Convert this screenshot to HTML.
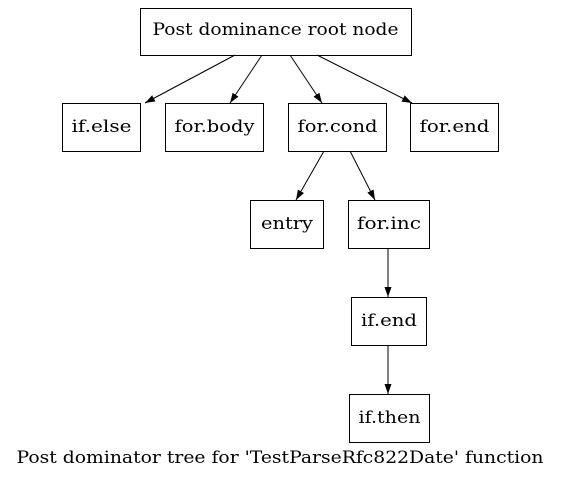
<!DOCTYPE html>
<html><head><meta charset="utf-8"><style>html,body{margin:0;padding:0;background:#fff;}svg{display:block}</style></head>
<body>
<svg width="561" height="480" viewBox="0 0 561 480" xmlns="http://www.w3.org/2000/svg" font-family="'DejaVu Serif', serif" font-size="17">
<defs><marker id="a" viewBox="0 0 10 10" refX="10" refY="5" markerWidth="10" markerHeight="10" markerUnits="userSpaceOnUse" orient="auto"><path d="M0,1.5 L10,5 L0,8.5 z" fill="#000"/></marker></defs>
<g fill="#fff" stroke="#000" stroke-width="1">
<rect x="140.5" y="8.5" width="271" height="47"/>
<rect x="62.5" y="103.5" width="78" height="48"/>
<rect x="165.5" y="103.5" width="98" height="48"/>
<rect x="288.5" y="103.5" width="98" height="48"/>
<rect x="410.5" y="103.5" width="88" height="48"/>
<rect x="250.5" y="200.5" width="73" height="48"/>
<rect x="348.5" y="200.5" width="81" height="48"/>
<rect x="351.5" y="297.5" width="75" height="48"/>
<rect x="349.5" y="394.5" width="80" height="48"/>
</g>
<g stroke="#000" stroke-width="1" marker-end="url(#a)">
<line x1="235" y1="55" x2="145" y2="103"/>
<line x1="262" y1="55" x2="230" y2="103"/>
<line x1="290" y1="55" x2="322" y2="103"/>
<line x1="317" y1="55" x2="412" y2="103"/>
<line x1="324" y1="151" x2="296" y2="200"/>
<line x1="350" y1="151" x2="375" y2="200"/>
<line x1="388" y1="248" x2="388" y2="297"/>
<line x1="388" y1="345" x2="388" y2="394"/>
</g>
<g text-anchor="middle" fill="#000" lengthAdjust="spacingAndGlyphs">
<text x="275.5" y="35" textLength="246" lengthAdjust="spacingAndGlyphs">Post dominance root node</text>
<text x="101.5" y="132" textLength="60" lengthAdjust="spacingAndGlyphs">if.else</text>
<text x="214.5" y="132" textLength="80" lengthAdjust="spacingAndGlyphs">for.body</text>
<text x="337.5" y="132" textLength="80" lengthAdjust="spacingAndGlyphs">for.cond</text>
<text x="454.5" y="132" textLength="70" lengthAdjust="spacingAndGlyphs">for.end</text>
<text x="287" y="229" textLength="52" lengthAdjust="spacingAndGlyphs">entry</text>
<text x="389" y="229" textLength="64" lengthAdjust="spacingAndGlyphs">for.inc</text>
<text x="389" y="326" textLength="56" lengthAdjust="spacingAndGlyphs">if.end</text>
<text x="389.5" y="423" textLength="62" lengthAdjust="spacingAndGlyphs">if.then</text>
<text x="280" y="463" textLength="527" lengthAdjust="spacingAndGlyphs">Post dominator tree for 'TestParseRfc822Date' function</text>
</g>
</svg>
</body></html>
